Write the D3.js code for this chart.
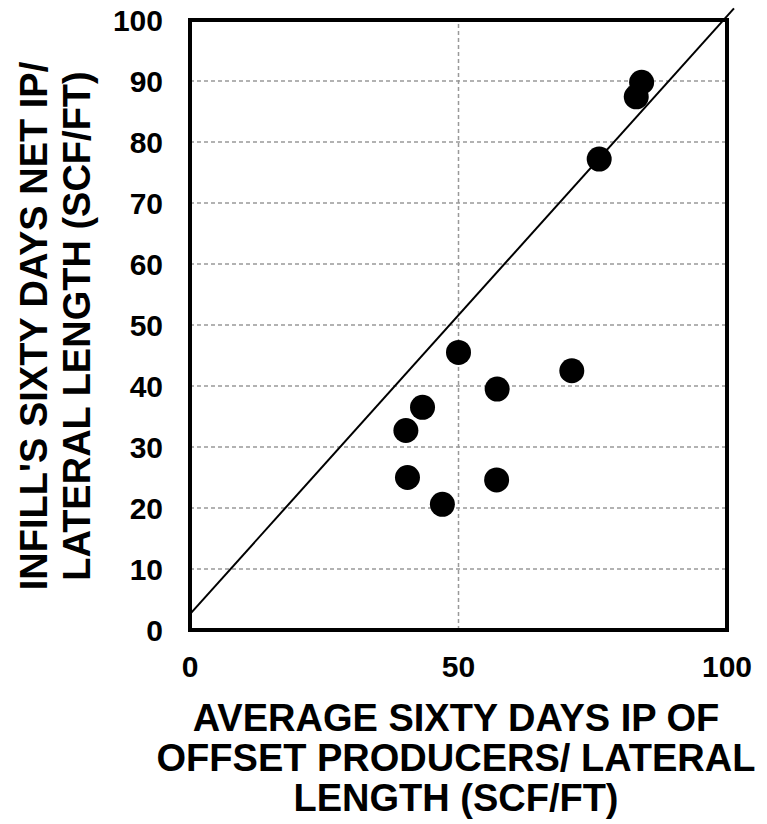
<!DOCTYPE html>
<html>
<head>
<meta charset="utf-8">
<script src="https://cdn.jsdelivr.net/npm/d3@7"></script>
<style>
  body { margin: 0; background: #fff; }
  text { font-family: "Liberation Sans", Arial, sans-serif; font-weight: bold; fill: #000; }
</style>
</head>
<body>
<div class="chart"></div>
<script>
// offset producers avg IP (x) vs infill net IP (y), both scf/ft
const offsetIP = [50.0, 57.2, 71.1, 43.3, 40.2, 40.5, 47.0, 57.1, 84.1, 83.1, 76.2]
const infillIP = [45.5, 39.5, 42.5, 36.5, 32.7, 25.0, 20.6, 24.6, 89.8, 87.4, 77.2]

// trend line end points
const lineX = [0, 101.3]
const lineY = [2.6, 101.9]

const xTicks = [0, 50, 100]
const yTicks = [0, 10, 20, 30, 40, 50, 60, 70, 80, 90, 100]

const xTitle = ['AVERAGE SIXTY DAYS IP OF', 'OFFSET PRODUCERS/ LATERAL', 'LENGTH (SCF/FT)']
const yTitle = ["INFILL'S SIXTY DAYS NET IP/", 'LATERAL LENGTH (SCF/FT)']

const svg = d3.select('.chart').append('svg')
  .attr('width', 767)
  .attr('height', 824)

const x = d3.scaleLinear().domain([0, 100]).range([190, 727])
const y = d3.scaleLinear().domain([0, 100]).range([630, 20])

// grid
svg.append('g').selectAll('line')
  .data(yTicks.filter(d => d > 0 && d < 100))
  .enter().append('line')
  .attr('x1', x(0)).attr('x2', x(100))
  .attr('y1', d => y(d)).attr('y2', d => y(d))
  .attr('stroke', '#999').attr('stroke-width', 1.5)
  .attr('stroke-dasharray', '4,3')

svg.append('g').selectAll('line')
  .data(xTicks.filter(d => d > 0 && d < 100))
  .enter().append('line')
  .attr('x1', d => x(d)).attr('x2', d => x(d))
  .attr('y1', y(0)).attr('y2', y(100))
  .attr('stroke', '#999').attr('stroke-width', 1.5)
  .attr('stroke-dasharray', '4,3')

// frame
svg.append('rect')
  .attr('x', x(0)).attr('y', y(100))
  .attr('width', x(100) - x(0)).attr('height', y(0) - y(100))
  .attr('fill', 'none').attr('stroke', '#000').attr('stroke-width', 4)

// trend line
svg.append('line')
  .attr('x1', x(lineX[0])).attr('y1', y(lineY[0]))
  .attr('x2', x(lineX[1])).attr('y2', y(lineY[1]))
  .attr('stroke', '#000').attr('stroke-width', 2)

// points
svg.append('g').selectAll('circle')
  .data(offsetIP)
  .enter().append('circle')
  .attr('cx', d => x(d))
  .attr('cy', (d, i) => y(infillIP[i]))
  .attr('r', 12.5)
  .attr('fill', '#000')

// tick labels
svg.append('g').selectAll('text')
  .data(yTicks)
  .enter().append('text')
  .attr('x', 163)
  .attr('y', d => y(d))
  .attr('dy', '0.36em')
  .attr('text-anchor', 'end')
  .attr('font-size', '30px')
  .text(d => d)

svg.append('g').selectAll('text')
  .data(xTicks)
  .enter().append('text')
  .attr('x', d => x(d))
  .attr('y', 677)
  .attr('text-anchor', 'middle')
  .attr('font-size', '30px')
  .text(d => d)

// axis titles
svg.append('g').selectAll('text')
  .data(xTitle)
  .enter().append('text')
  .attr('x', 456)
  .attr('y', (d, i) => 731 + i * 40)
  .attr('text-anchor', 'middle')
  .attr('font-size', '38px')
  .text(d => d)

svg.append('g').selectAll('text')
  .data(yTitle)
  .enter().append('text')
  .attr('transform', (d, i) => `translate(${47 + i * 43}, 326) rotate(-90)`)
  .attr('text-anchor', 'middle')
  .attr('font-size', '38px')
  .text(d => d)
</script>
</body>
</html>
